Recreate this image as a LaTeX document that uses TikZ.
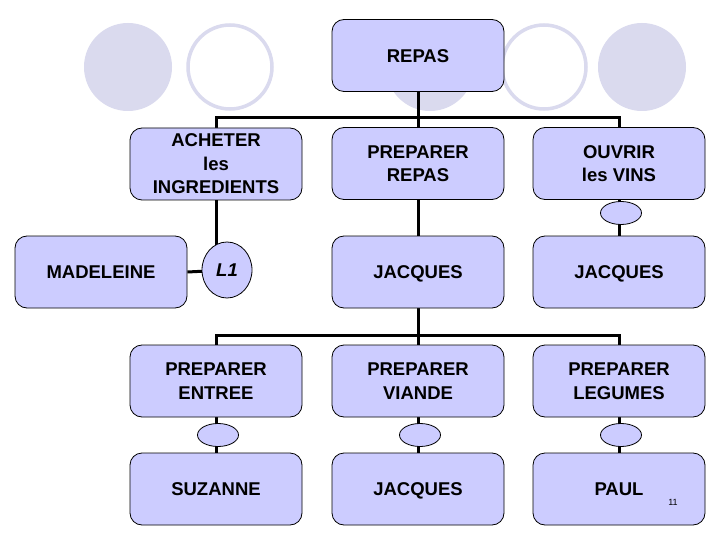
\documentclass[tikz,border=0pt]{standalone}
\usepackage{fontspec}
\setmainfont{Liberation Sans}
\usetikzlibrary{shapes.geometric}
\definecolor{boxfill}{RGB}{204,204,255}
\definecolor{decofill}{RGB}{218,218,238}
\pgfdeclarelayer{deco}
\pgfdeclarelayer{links}
\pgfsetlayers{deco,links,main}
\begin{document}
\begin{tikzpicture}[x=1pt,y=-1pt,
 task/.style={draw=black,line width=0.8pt,fill=boxfill,rounded corners=12pt,minimum width=172pt,minimum height=72pt,inner sep=0pt,align=center,font=\fontsize{18.5}{23.5}\selectfont\bfseries},
 oneline/.style={text height=13.3pt,text depth=0pt},
 link/.style={draw=black,line width=3pt},
 knot/.style={draw=black,line width=0.8pt,fill=boxfill,ellipse,minimum width=41pt,minimum height=23pt,inner sep=0pt},
 decodisc/.style={fill=decofill},
 decoring/.style={draw=decofill,line width=3.5pt,fill=white}]
\useasboundingbox (0,0) rectangle (720,540);
\begin{pgfonlayer}{deco}
\fill[white] (0,0) rectangle (720,540);
\fill[decodisc] (128,67) ellipse [x radius=44pt, y radius=44pt];
\draw[decoring] (230,67) ellipse [x radius=42pt, y radius=42pt];
\fill[decodisc] (430,67) ellipse [x radius=44pt, y radius=44pt];
\draw[decoring] (544,67) ellipse [x radius=42pt, y radius=42pt];
\fill[decodisc] (642,67) ellipse [x radius=44pt, y radius=44pt];
\end{pgfonlayer}
% nodes
\node[task,oneline] (repas) at (418,55.5) {REPAS};
\node[task] (ach) at (216,164) {ACHETER\\les\\INGREDIENTS};
\node[task] (prep) at (418,163.5) {PREPARER\\REPAS};
\node[task] (ouv) at (619,163.5) {OUVRIR\\les VINS};
\node[task,oneline] (mad) at (101,272) {MADELEINE};
\node[draw=black,line width=0.8pt,fill=boxfill,ellipse,minimum width=50pt,minimum height=56pt,inner sep=0pt,text height=13.3pt,text depth=0pt,font=\fontsize{18.5}{23}\selectfont\bfseries\itshape] (l1) at (227,270) {L1};
\node[task,oneline] (jac1) at (418,272) {JACQUES};
\node[task,oneline] (jac2) at (619,272) {JACQUES};
\node[knot] (k1) at (621,213) {};
\node[task] (ent) at (216,381) {PREPARER\\ENTREE};
\node[task] (via) at (418,381) {PREPARER\\VIANDE};
\node[task] (leg) at (619,381) {PREPARER\\LEGUMES};
\node[knot] (k2) at (218,435) {};
\node[knot] (k3) at (420,435) {};
\node[knot] (k4) at (621,435) {};
\node[task,oneline] (suz) at (216,489) {SUZANNE};
\node[task,oneline] (jac3) at (418,489) {JACQUES};
\node[task,oneline] (paul) at (619,489) {PAUL};
\node[font=\fontsize{9}{10}\selectfont] (pg) at (673,502) {11};
\coordinate (tb) at (418,118);
\coordinate (bb) at (418,335);
\begin{pgfonlayer}{links}
\draw[link] (repas.south) -- (tb);
\draw[link] (ach.north) |- (tb) -| (ouv.north);
\draw[link] (tb) -- (prep.north);
\draw[link] (prep.south) -- (jac1.north);
\draw[link] (ouv.south) -- (jac2.north);
\draw[link] (ach.south) -- (ach.south |- l1.center);
\draw[link] (mad.east) -- (l1.center);
\draw[link] (jac1.south) -- (bb);
\draw[link] (ent.north) |- (bb) -| (leg.north);
\draw[link] (bb) -- (via.north);
\draw[link] (ent.south) -- (suz.north);
\draw[link] (via.south) -- (jac3.north);
\draw[link] (leg.south) -- (paul.north);
\end{pgfonlayer}
\end{tikzpicture}
\end{document}
